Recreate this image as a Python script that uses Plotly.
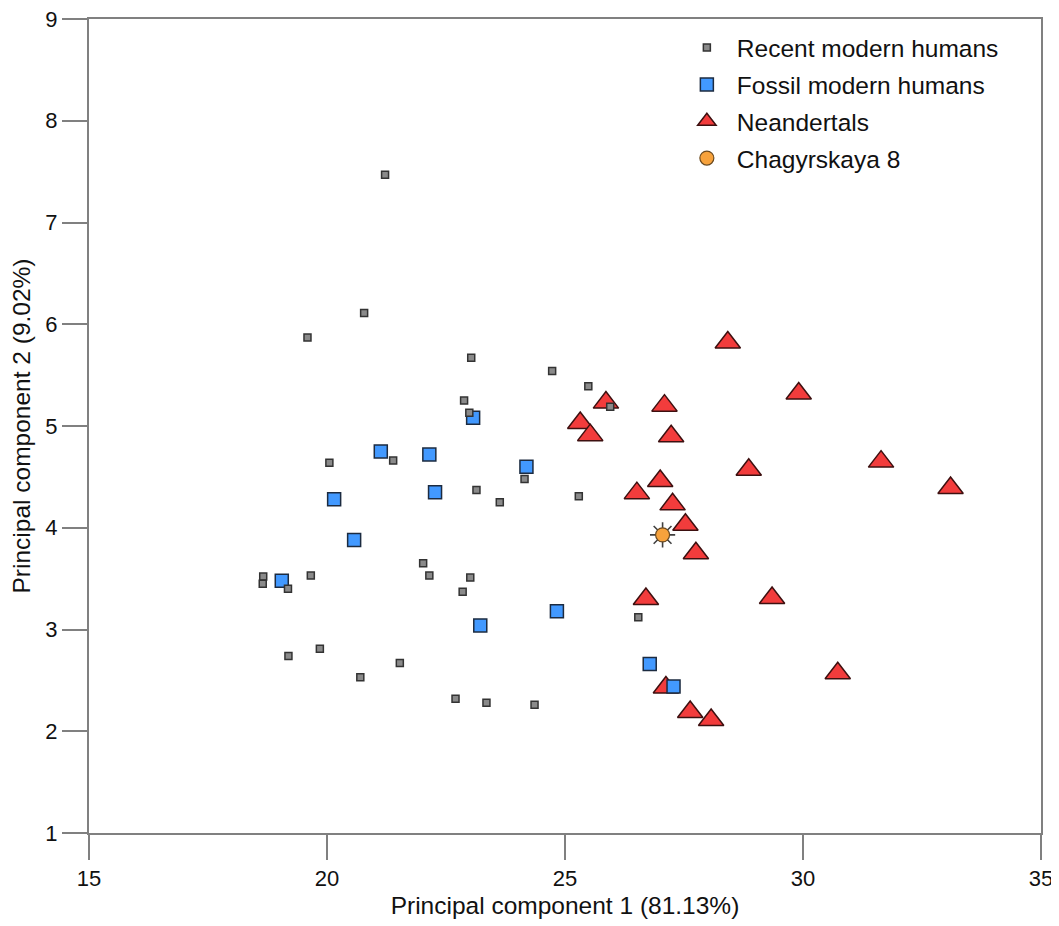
import plotly.graph_objects as go

# ---- data ----
recent_x = [21.22, 20.78, 19.59, 23.03, 24.73, 25.49, 25.95, 22.88, 22.99, 20.05,
            21.39, 24.15, 23.14, 23.63, 25.29, 18.66, 18.65, 19.18, 19.66, 22.02,
            22.15, 23.01, 22.85, 19.19, 19.85, 21.53, 20.70, 22.70, 23.35, 24.36, 26.54]
recent_y = [7.47, 6.11, 5.87, 5.67, 5.54, 5.39, 5.19, 5.25, 5.13, 4.64,
            4.66, 4.48, 4.37, 4.25, 4.31, 3.52, 3.45, 3.40, 3.53, 3.65,
            3.53, 3.51, 3.37, 2.74, 2.81, 2.67, 2.53, 2.32, 2.28, 2.26, 3.12]

fossil_x = [23.07, 21.13, 22.15, 24.19, 22.27, 20.15, 20.57, 19.05, 23.22, 24.83, 26.78, 27.28]
fossil_y = [5.08, 4.75, 4.72, 4.60, 4.35, 4.28, 3.88, 3.48, 3.04, 3.18, 2.66, 2.44]

nean_x = [28.42, 29.91, 25.86, 27.09, 25.32, 25.53, 27.23, 28.86, 31.64, 33.10, 27.00,
          26.51, 27.26, 27.53, 27.75, 26.70, 29.35, 30.73, 27.12, 27.63, 28.07]
nean_y = [5.82, 5.32, 5.23, 5.20, 5.03, 4.91, 4.90, 4.57, 4.65, 4.39, 4.46,
          4.34, 4.23, 4.03, 3.75, 3.30, 3.31, 2.57, 2.43, 2.19, 2.11]

chag_x = [27.05]
chag_y = [3.93]

series_names = ["Recent modern humans", "Fossil modern humans", "Neandertals", "Chagyrskaya 8"]
x_ticks = [15, 20, 25, 30, 35]
y_ticks = [1, 2, 3, 4, 5, 6, 7, 8, 9]
x_title = "Principal component 1 (81.13%)"
y_title = "Principal component 2 (9.02%)"

FONT = "Liberation Sans, Arial, Helvetica, sans-serif"
TXT = "#111111"

fig = go.Figure()

fig.add_trace(go.Scatter(
    x=nean_x, y=nean_y, mode="markers", name=series_names[2], legendrank=3,
    legendgroup="n",
    marker=dict(symbol="triangle-up", size=22, color="#f23c3c",
                line=dict(color="#3d1010", width=1.5))))

fig.add_trace(go.Scatter(
    x=fossil_x, y=fossil_y, mode="markers", name=series_names[1], legendrank=2,
    legendgroup="f",
    marker=dict(symbol="square", size=13, color="#4299ff",
                line=dict(color="#1c2b40", width=1.5))))

fig.add_trace(go.Scatter(
    x=recent_x, y=recent_y, mode="markers", name=series_names[0], legendrank=1,
    legendgroup="r",
    marker=dict(symbol="square", size=7, color="#8a8a8a",
                line=dict(color="#333333", width=1.5))))

fig.add_trace(go.Scatter(
    x=chag_x, y=chag_y, mode="markers", showlegend=False, hoverinfo="skip",
    legendgroup="c",
    marker=dict(symbol="asterisk-open", size=21, color="#404040",
                line=dict(color="#404040", width=1.6))))

fig.add_trace(go.Scatter(
    x=chag_x, y=chag_y, mode="markers", name=series_names[3], legendrank=4,
    legendgroup="c",
    marker=dict(symbol="circle", size=14, color="#f7a23c",
                line=dict(color="#6b4a20", width=1.2))))

axis_common = dict(
    showgrid=False, zeroline=False, showline=True, mirror=True,
    linecolor="#808080", linewidth=2,
    ticks="outside", ticklen=25, tickwidth=2, tickcolor="#808080",
    tickfont=dict(family=FONT, size=22, color=TXT),
    ticklabeloverflow="allow",
)

fig.update_xaxes(range=[15, 35], tickvals=x_ticks, ticktext=[str(v) for v in x_ticks],
                 title=dict(text=x_title, font=dict(family=FONT, size=24.5, color=TXT),
                            standoff=6),
                 **axis_common)
fig.update_yaxes(range=[1, 9], tickvals=y_ticks, ticktext=[str(v) for v in y_ticks],
                 title=dict(text=y_title, font=dict(family=FONT, size=24.5, color=TXT),
                            standoff=8),
                 **axis_common)

fig.update_layout(
    width=1059, height=926,
    margin=dict(l=81, r=26, t=11, b=101, autoexpand=False),
    paper_bgcolor="white", plot_bgcolor="white",
    font=dict(family=FONT, size=22, color=TXT),
    legend=dict(x=0.6175, y=0.9925, xanchor="left", yanchor="top",
                bgcolor="rgba(0,0,0,0)", borderwidth=0,
                font=dict(family=FONT, size=24.5, color=TXT),
                itemsizing="trace", itemwidth=50, tracegroupgap=2),
    showlegend=True,
)

fig.write_html("out.html")
